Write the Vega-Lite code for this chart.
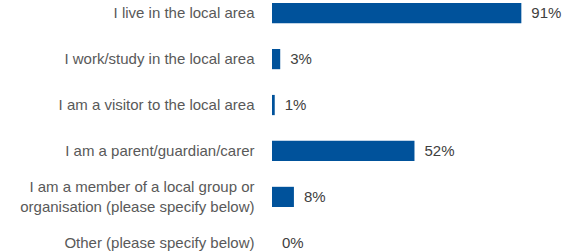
{
  "$schema": "https://vega.github.io/schema/vega-lite/v6.json",
  "width": 274,
  "height": 256,
  "autosize": {"type": "none"},
  "padding": {"left": 272, "top": 0, "right": 24, "bottom": 0},
  "background": "white",
  "config": {"view": {"stroke": null}},
  "data": {"values": [
    {"label": "I live in the local area", "value": 91},
    {"label": "I work/study in the local area", "value": 3},
    {"label": "I am a visitor to the local area", "value": 1},
    {"label": "I am a parent/guardian/carer", "value": 52},
    {"label": "I am a member of a local group or|organisation (please specify below)", "value": 8},
    {"label": "Other (please specify below)", "value": 0}
  ]},
  "encoding": {
    "y": {
      "field": "label", "type": "nominal", "sort": null,
      "scale": {"paddingInner": 0.56, "paddingOuter": 0.066},
      "axis": {"title": null, "domain": false, "ticks": false, "labelPadding": 18,
        "labelFont": "Liberation Sans", "labelFontSize": 15, "labelColor": "#595959",
        "labelLimit": 300, "labelLineHeight": 20, "labelExpr": "split(datum.label, '|')",
        "labelOffset": {"expr": "indexof(datum.value, '|') >= 0 ? -10 : 0"}}
    },
    "x": {
      "field": "value", "type": "quantitative",
      "scale": {"domain": [0, 100]},
      "axis": null
    }
  },
  "layer": [
    {"mark": {"type": "bar", "color": "#00529B"}},
    {"mark": {"type": "text", "align": "left", "dx": 10, "font": "Liberation Sans", "fontSize": 15, "color": "#404040",
      "text": {"expr": "datum.value + '%'"}}}
  ]
}
